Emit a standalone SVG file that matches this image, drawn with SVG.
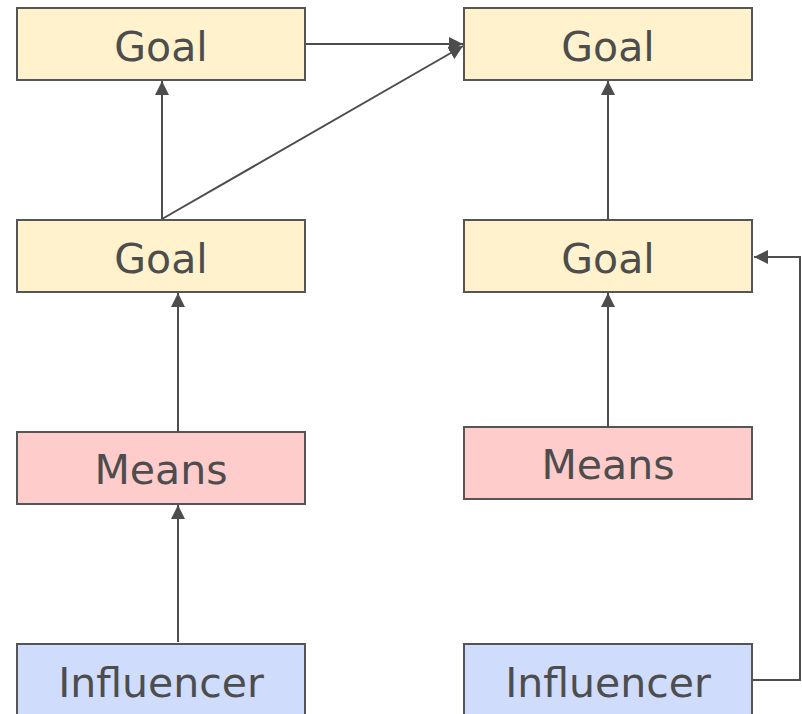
<svg xmlns="http://www.w3.org/2000/svg" width="802" height="714" viewBox="0 0 802 714">
  <defs>
    <marker id="arrow" viewBox="0 0 14 14" refX="14" refY="7" markerWidth="14" markerHeight="14" markerUnits="userSpaceOnUse" orient="auto">
      <path d="M0,0 L14,7 L0,14 Z" fill="#4d4d4d"/>
    </marker>
    <style>
      .box { stroke: #555555; stroke-width: 2; }
      .goal { fill: #fff2cc; }
      .means { fill: #ffcccc; }
      .infl { fill: #cfdcfc; }
      .label { font-family: "DejaVu Sans", sans-serif; font-size: 41px; fill: #4d4d4d; text-anchor: middle; }
      .edge { fill: none; stroke: #4d4d4d; stroke-width: 2; marker-end: url(#arrow); }
    </style>
  </defs>
  <rect width="802" height="714" fill="#ffffff"/>

  <g id="connectors">
    <line class="edge" x1="305" y1="44" x2="463" y2="44"/>
    <line class="edge" x1="162" y1="219" x2="463" y2="46"/>
    <line class="edge" x1="162" y1="219" x2="162" y2="81"/>
    <line class="edge" x1="178" y1="432" x2="178" y2="293"/>
    <line class="edge" x1="178" y1="642" x2="178" y2="505"/>
    <line class="edge" x1="608" y1="220" x2="608" y2="81"/>
    <line class="edge" x1="608" y1="427" x2="608" y2="293"/>
    <path class="edge" d="M753,680 H800 V257 H754"/>
  </g>

  <g id="goal-left-top">
    <rect class="box goal" x="17" y="8" width="288" height="72"/>
    <text class="label" x="161" y="61">Goal</text>
  </g>
  <g id="goal-right-top">
    <rect class="box goal" x="464" y="8" width="288" height="72"/>
    <text class="label" x="608" y="61">Goal</text>
  </g>
  <g id="goal-left-mid">
    <rect class="box goal" x="17" y="220" width="288" height="72"/>
    <text class="label" x="161" y="273">Goal</text>
  </g>
  <g id="goal-right-mid">
    <rect class="box goal" x="464" y="220" width="288" height="72"/>
    <text class="label" x="608" y="273">Goal</text>
  </g>
  <g id="means-left">
    <rect class="box means" x="17" y="432" width="288" height="72"/>
    <text class="label" x="161" y="484">Means</text>
  </g>
  <g id="means-right">
    <rect class="box means" x="464" y="427" width="288" height="72"/>
    <text class="label" x="608" y="479">Means</text>
  </g>
  <g id="influencer-left">
    <rect class="box infl" x="17" y="644" width="288" height="74"/>
    <text class="label" x="161" y="697">Influencer</text>
  </g>
  <g id="influencer-right">
    <rect class="box infl" x="464" y="644" width="288" height="74"/>
    <text class="label" x="608" y="697">Influencer</text>
  </g>
</svg>
